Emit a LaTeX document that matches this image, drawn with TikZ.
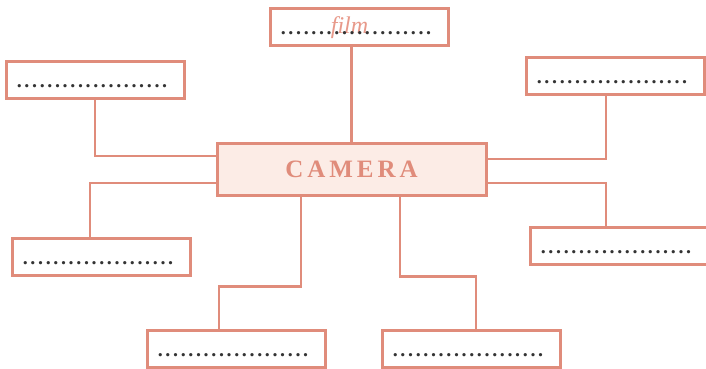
\documentclass[tikz,border=0pt]{standalone}
\usepackage{fontspec}
\setmainfont{Liberation Serif}
\definecolor{salmon}{HTML}{E08C7B}
\definecolor{salmonlight}{HTML}{E89A8B}
\definecolor{pinkfill}{HTML}{FCECE6}
\definecolor{dotgrey}{HTML}{333333}
\newcommand\dotrow{\foreach \k in {1,...,19}{.\kern2.65pt}.}
\begin{document}
\begin{tikzpicture}[x=1pt,y=-1pt,
  blank/.style={draw=salmon,line width=3pt,fill=white,minimum width=178pt,minimum height=37pt,inner sep=0pt},
  hub/.style={draw=salmon,line width=3pt,fill=pinkfill,minimum width=269pt,minimum height=52pt,inner sep=0pt},
  link/.style={draw=salmon,line width=2.8pt},
  dotstext/.style={text=dotgrey,font=\bfseries\fontsize{20}{20}\selectfont,inner sep=0pt}]
\useasboundingbox (0,0) rectangle (706,368);
\node[hub] (cam) at (351.5,169) {};
\node[blank] (tp) at (359,26.5) {};
\node[blank] (tl) at (95,79.5) {};
\node[blank] (tr) at (615,75.5) {};
\node[blank] (lm) at (101,256.5) {};
\node[blank] (rm) at (619,245.5) {};
\node[blank] (bl) at (236,348.5) {};
\node[blank] (br) at (471,348.5) {};
\draw[link] (cam.north) -- (cam.north |- tp.south);
\draw[link] (tl.south) |- ([yshift=13pt]cam.west);
\draw[link] ([yshift=-14pt]cam.west) -| ([xshift=-11pt]lm.north);
\draw[link] ([xshift=-9pt]tr.south) |- ([yshift=10pt]cam.east);
\draw[link] ([yshift=-14pt]cam.east) -| ([xshift=-13pt]rm.north);
\draw[link] ([xshift=-50.5pt]cam.south) -- ++(0,90) -| ([xshift=-17pt]bl.north);
\draw[link] ([xshift=48.5pt]cam.south) -- ++(0,80) -| ([xshift=5pt]br.north);
\node[anchor=base,text=salmon,font=\bfseries\fontsize{25}{25}\selectfont,inner sep=0pt] (camtxt) at (351.5,177) {C\kern4pt A\kern4pt M\kern4pt E\kern4pt R\kern4pt A};
\node[anchor=base,text=salmonlight,font=\itshape\fontsize{24}{24}\selectfont,inner sep=0pt] (film) at (349.5,33) {film};
\node[dotstext] (d1) at ([xshift=-3pt,yshift=-7pt]tp.center) {\dotrow};
\node[dotstext] (d2) at ([xshift=-3pt,yshift=-7pt]tl.center) {\dotrow};
\node[dotstext] (d3) at ([xshift=-3pt,yshift=-7pt]tr.center) {\dotrow};
\node[dotstext] (d4) at ([xshift=-3pt,yshift=-7pt]lm.center) {\dotrow};
\node[dotstext] (d5) at ([xshift=-3pt,yshift=-7pt]rm.center) {\dotrow};
\node[dotstext] (d6) at ([xshift=-3pt,yshift=-7pt]bl.center) {\dotrow};
\node[dotstext] (d7) at ([xshift=-3pt,yshift=-7pt]br.center) {\dotrow};
\end{tikzpicture}
\end{document}
